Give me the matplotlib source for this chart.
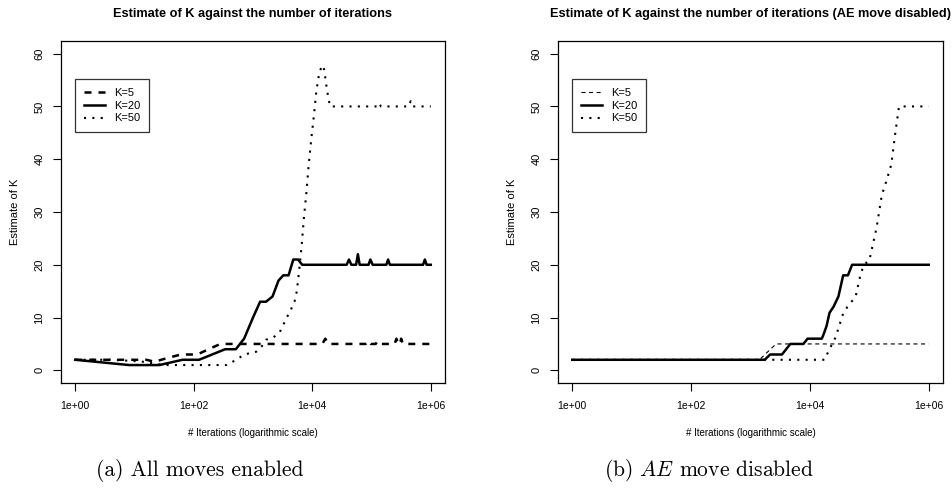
import numpy as np
import matplotlib
matplotlib.use("Agg")
import matplotlib.pyplot as plt
from matplotlib.ticker import FixedLocator, NullLocator

plt.rcParams['font.family'] = ['Liberation Sans', 'DejaVu Sans']
plt.rcParams['mathtext.fontset'] = 'cm'

# ---------------- data (log10 of iteration count, estimate of K) ----------------
left_k5_logiter = [0, 1.0, 1.2, 1.35, 1.45, 1.78, 2.06, 2.25, 2.45, 4.17, 4.22, 4.27,
                   4.90, 4.95, 4.99, 5.07, 5.10, 5.14, 5.39, 5.42, 5.45, 5.48, 5.50, 5.53, 6.0]
left_k5_est = [2, 2, 2, 1.6, 2, 3, 3, 4, 5, 5, 6, 5,
               5, 5.6, 5, 5, 5.5, 5, 5, 6, 5, 5, 6, 5, 5]

left_k20_logiter = [0, 0.91, 1.42, 1.81, 2.09, 2.53, 2.71, 2.85, 3.0, 3.12, 3.22, 3.33,
                    3.43, 3.51, 3.60, 3.68, 3.76, 3.83, 4.58, 4.62, 4.66, 4.74, 4.77,
                    4.80, 4.95, 4.98, 5.02, 5.25, 5.28, 5.31, 5.87, 5.90, 5.93, 6.0]
left_k20_est = [2, 1, 1, 2, 2, 4, 4, 6, 10, 13, 13, 14,
                17, 18, 18, 21, 21, 20, 20, 21, 20, 20, 22,
                20, 20, 21, 20, 20, 21, 20, 20, 21, 20, 20]

left_k50_logiter = [0, 0.6, 1.1, 1.5, 2.55, 2.72, 2.85, 3.05, 3.14, 3.22, 3.34, 3.45,
                    3.57, 3.64, 3.70, 3.74, 3.78, 3.82, 3.86, 3.90, 3.94, 3.99, 4.03,
                    4.07, 4.12, 4.17, 4.20, 4.25, 4.30, 5.10, 5.13, 5.16, 5.63, 5.66,
                    5.69, 6.0]
left_k50_est = [2, 2, 1.7, 1, 1, 2, 3, 3.5, 4.4, 5.8, 6.2, 7.2,
                10, 11.5, 13, 15, 19, 23.5, 29, 33.5, 39, 44.5, 48.5,
                53, 56.5, 57.8, 57, 53, 50, 50, 50.6, 50, 50, 51,
                50, 50]

right_k5_logiter = [0, 3.15, 3.43, 6.0]
right_k5_est = [2, 2, 5, 5]

right_k20_logiter = [0, 3.24, 3.33, 3.53, 3.67, 3.89, 3.96, 4.20, 4.23, 4.28, 4.33,
                     4.40, 4.48, 4.56, 4.64, 4.71, 6.0]
right_k20_est = [2, 2, 3, 3, 5, 5, 6, 6, 6.8, 8.4, 10.9,
                 12.1, 14, 18, 18, 20, 20]

right_k50_logiter = [0, 4.25, 4.31, 4.43, 4.56, 4.63, 4.70, 4.77, 4.86, 4.93, 5.00,
                     5.06, 5.12, 5.21, 5.29, 5.37, 5.44, 5.50, 6.0]
right_k50_est = [2, 2, 3.6, 6.2, 10.8, 12, 13, 14, 18.6, 20.2, 20.8,
                 23.9, 26.9, 33.2, 36, 39, 45.2, 50, 50]

xticks = [1, 1e2, 1e4, 1e6]
xtick_labels = ["1e+00", "1e+02", "1e+04", "1e+06"]
yticks = [0, 10, 20, 30, 40, 50, 60]
legend_labels = ["K=5", "K=20", "K=50"]

titles = ["Estimate of K against the number of iterations",
          "Estimate of K against the number of iterations (AE move disabled)"]
xlabel = "# Iterations (logarithmic scale)"
ylabel = "Estimate of K"
captions = ["(a) All moves enabled", r"(b) $AE$ move disabled"]

# ---------------- figure ----------------
W, H = 953, 494
fig = plt.figure(figsize=(W / 100, H / 100), dpi=100)

def fx(px):
    return px / W

def fy(py):
    return 1 - py / H

axes_px = [(61, 445), (558, 943)]
top_px, bot_px = 41, 383

panels = [
    (left_k5_logiter, left_k5_est, left_k20_logiter, left_k20_est,
     left_k50_logiter, left_k50_est, 1.8, (2.8, 2.8)),
    (right_k5_logiter, right_k5_est, right_k20_logiter, right_k20_est,
     right_k50_logiter, right_k50_est, 0.8, (3.6, 3.2)),
]

for i, (pan, (x0, x1)) in enumerate(zip(panels, axes_px)):
    k5x, k5y, k20x, k20y, k50x, k50y, dlw, dpat = pan
    ax = fig.add_axes([fx(x0), fy(bot_px), fx(x1) - fx(x0), fy(top_px) - fy(bot_px)])
    ax.set_xscale('log')
    l1, = ax.plot(10 ** np.array(k5x), k5y, color='black', lw=dlw,
                  linestyle=(0, dpat), label=legend_labels[0])
    l2, = ax.plot(10 ** np.array(k20x), k20y, color='black', lw=1.8,
                  linestyle='-', label=legend_labels[1], solid_joinstyle='round')
    l3, = ax.plot(10 ** np.array(k50x), k50y, color='black', lw=1.5,
                  linestyle=(0, (1, 3)), label=legend_labels[2])
    ax.set_xlim(10 ** -0.24, 10 ** 6.24)
    ax.set_ylim(-2.4, 62.4)
    ax.xaxis.set_major_locator(FixedLocator(xticks))
    ax.xaxis.set_minor_locator(NullLocator())
    ax.set_xticklabels(xtick_labels)
    ax.set_yticks(yticks)
    ax.set_yticklabels([str(v) for v in yticks], rotation=90, va='center')
    ax.tick_params(axis='x', length=6, width=0.8, pad=7, labelsize=7.5)
    ax.tick_params(axis='y', length=6, width=0.8, pad=6, labelsize=8)
    for sp in ax.spines.values():
        sp.set_linewidth(0.9)
        sp.set_color('black')
    leg = ax.legend(handles=[l1, l2, l3], loc='upper left',
                    bbox_to_anchor=(0.036, 0.889), borderaxespad=0,
                    fontsize=8, frameon=True, fancybox=False, edgecolor='black',
                    handlelength=1.9, handletextpad=0.8, labelspacing=0.25,
                    borderpad=0.8)
    leg.get_frame().set_linewidth(0.9)
    cx = (x0 + x1) / 2
    fig.text(fx(cx), fy(14), titles[i], ha='center', va='center',
             fontsize=9.2, fontweight='bold')
    fig.text(fx(cx), fy(433), xlabel, ha='center', va='center', fontsize=7)
    fig.text(fx(x0 - 46), fy((top_px + bot_px) / 2), ylabel, ha='center',
             va='center', rotation=90, fontsize=8)

fig.text(fx(200), fy(470), captions[0], ha='center', va='center',
         fontsize=15.5, family='cmr10')
fig.text(fx(709), fy(470), captions[1], ha='center', va='center',
         fontsize=15.5, family='cmr10')

fig.savefig("out.png", dpi=100)
